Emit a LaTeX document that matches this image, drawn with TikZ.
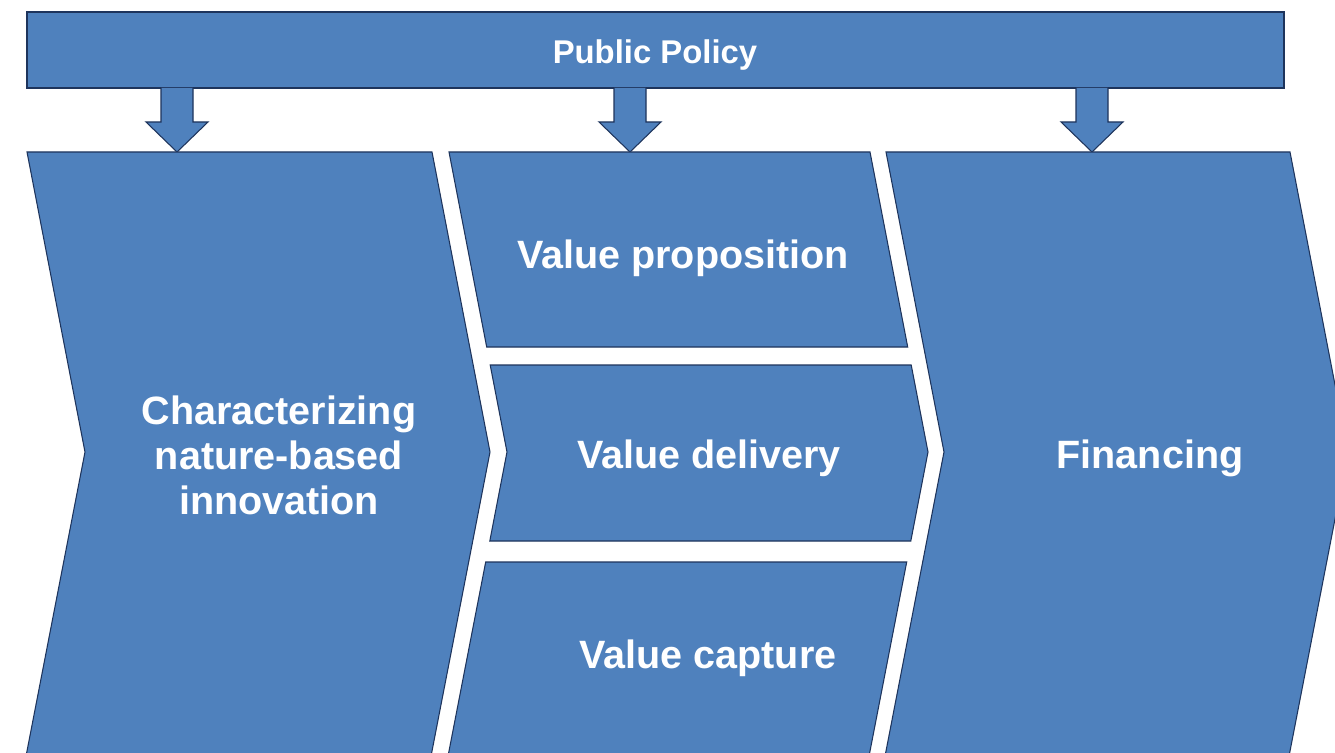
\documentclass[tikz,border=0pt]{standalone}
\usepackage{fontspec}
\setmainfont{Liberation Sans}
\definecolor{boxblue}{RGB}{79,129,189}
\definecolor{edgeblue}{RGB}{30,52,92}
\begin{document}
\begin{tikzpicture}
[x=0.02cm,y=-0.02cm,
  shapedecorate/.style={fill=boxblue,draw=edgeblue,line width=0.6pt,line join=miter},
  textdecorate/.style={text=white,font=\bfseries\fontsize{22.5}{25.6}\selectfont,align=center}]
\clip (0,0) rectangle (1335,753);
\fill[white] (0,0) rectangle (1335,753);
%% top bar
\draw[shapedecorate] (27,12) rectangle (1284,88);
\node (policy) at (655,55) [text=white,font=\bfseries\fontsize{18.7}{21}\selectfont] {Public Policy};
%% block arrows
\foreach \x in {177,630,1092} {
  \draw[shapedecorate] (\x-16,88) -- (\x-16,122) -- (\x-31,122) -- (\x,152)
    -- (\x+31,122) -- (\x+16,122) -- (\x+16,88);
}
%% outer chevrons
\foreach \l/\r in {27/432, 886/1290} {
  \draw[shapedecorate] (\l,152) -- (\r,152) -- (\r+58,452) -- (\r-6,782)
    -- (\l-6,782) -- (\l+58,452) -- cycle;
}
%% middle bands
\draw[shapedecorate] (449,152) -- (870,152) -- (907.7,347) -- (486.7,347) -- cycle;
\draw[shapedecorate] (490.2,365) -- (911.2,365) -- (928,452) -- (910.8,541)
  -- (489.8,541) -- (507,452) -- cycle;
\draw[shapedecorate] (485.7,562) -- (906.7,562) -- (864,782) -- (443,782) -- cycle;
%% labels
\node (char) at (279,455) [textdecorate] {Characterizing\\nature-based\\innovation};
\node (prop) at (683,258) [textdecorate] {Value proposition};
\node (deliv) at (709,458) [textdecorate] {Value delivery};
\node (capt) at (708,658) [textdecorate] {Value capture};
\node (fin) at (1150,458) [textdecorate] {Financing};
\end{tikzpicture}
\end{document}
